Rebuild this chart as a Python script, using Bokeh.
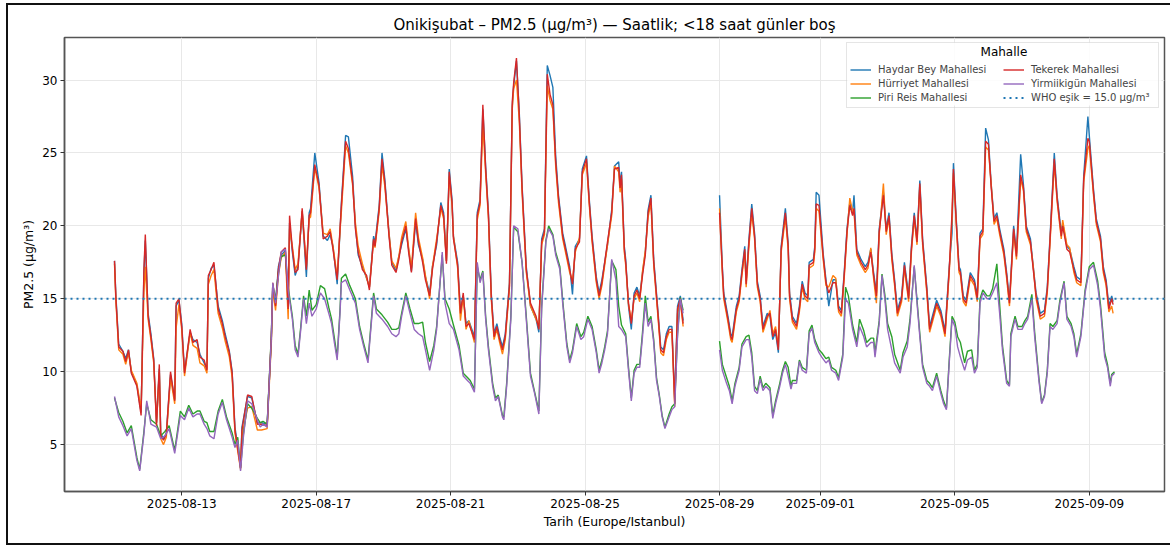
import numpy as np
import pandas as pd
from bokeh.plotting import figure
from bokeh.models import Range1d, FixedTicker, DatetimeTickFormatter, Legend, LegendItem, Label
from bokeh.embed import file_html
from bokeh.resources import INLINE

nan = float("nan")

TITLE = "Onikişubat – PM2.5 (µg/m³) — Saatlik; <18 saat günler boş"
X_LABEL = "Tarih (Europe/Istanbul)"
Y_LABEL = "PM2.5 (µg/m³)"
LEGEND_TITLE = "Mahalle"
START = "2025-08-11 00:00"
TICK_DATES = ["2025-08-13", "2025-08-17", "2025-08-21", "2025-08-25",
              "2025-08-29", "2025-09-01", "2025-09-05", "2025-09-09"]
Y_TICKS = [5, 10, 15, 20, 25, 30]
WHO = 15.0

# hours since START (high-level neighbourhoods)
HI_HOURS = [
    0, 1, 3, 6, 8, 10, 12, 16, 19, 21,
    22, 24, 26, 28, 30, 32, 33, 35, 37, 40,
    43, 44, 46, 48, 50, 54, 56, 59, 61, 64,
    66, 67, 69, 71, 74, 77, 79, 82, 84, 86,
    90, 91, 95, 98, 102, 105, 109, 112, 113, 115,
    117, 119, 122, 124, 125, 127, 129, 131, 134, 137,
    139, 140, 143, 146, 149, 152, 154, 156, 159, 161,
    162, 165, 167, 170, 172, 174, 177, 180, 182, 185,
    186, 189, 191, 193, 196, 198, 201, 203, 205, 208,
    210, 212, 215, 217, 220, 222, 225, 227, 230, 233,
    235, 237, 239, 241, 242, 245, 247, 249, 251, 253,
    257, 259, 261, 263, 265, 267, 269, 271, 273, 275,
    277, 279, 282, 284, 285, 287, 289, 291, 294, 297,
    301, 303, 305, 307, 309, 311, 313, 315, 317, 320,
    322, 325, 327, 329, 332, 334, 337, 339, 341, 344,
    346, 348, 352, 355, 357, 360, 361, 362, 364, 365,
    367, 369, 371, 373, 375, 377, 379, 381, 383, 385,
    388, 390, 392, 394, 396, 398, 400, 402, 404, 406,
    420, 432, 434, 435, 438, 440, 441, 444, 446, 448,
    450, 451, 453, 455, 457, 459, 461, 463, 466, 468,
    470, 472, 474, 476, 479, 481, 482, 484, 487, 489,
    491, 493, 495, 496, 499, 500, 501, 503, 506, 508,
    510, 513, 515, 517, 519, 521, 523, 525, 527, 528,
    530, 533, 536, 538, 540, 542, 544, 546, 549, 551,
    553, 555, 557, 559, 562, 564, 567, 569, 571, 573,
    575, 577, 580, 582, 584, 587, 590, 593, 596, 598,
    599, 601, 603, 604, 606, 608, 611, 614, 616, 618,
    620, 622, 624, 626, 628, 630, 632, 635, 637, 639,
    642, 644, 647, 649, 651, 654, 656, 658, 661, 664,
    666, 668, 671, 673, 676, 677, 680, 682, 685, 687,
    690, 692, 695, 696, 699, 701, 704, 706, 708, 710,
    712, 713,
]

HAYDAR = [
    17.6, 15.2, 11.9, 11.4, 10.9, 11.5, 10.0, 9.1, 7.2, 16.8,
    19.0, 14.0, 12.6, 10.9, 6.5, 10.2, 5.8, 5.4, 5.8, 9.8,
    8.1, 14.5, 14.9, 13.3, 10.0, 12.7, 12.2, 12.0, 11.2, 10.6,
    10.2, 16.4, 17.1, 17.3, 14.5, 13.5, 12.6, 11.4, 10.0, 6.2,
    3.5, 6.2, 8.3, 8.2, 6.5, 6.5, 6.4, 12.2, 15.8, 14.6,
    17.2, 18.0, 18.3, 14.8, 20.2, 18.2, 16.6, 17.2, 21.0, 16.5,
    20.9, 21.2, 25.0, 23.0, 19.3, 19.0, 19.4, 18.6, 16.0, 19.6,
    21.6, 26.2, 26.1, 23.4, 20.0, 18.0, 17.2, 16.4, 15.8, 19.3,
    18.8, 21.4, 25.0, 23.2, 19.5, 17.5, 16.9, 17.9, 18.7, 19.8,
    18.4, 16.9, 20.3, 18.7, 17.7, 16.5, 15.4, 17.2, 18.7, 21.6,
    20.9, 17.6, 23.9, 21.8, 19.3, 17.5, 14.2, 15.2, 13.3, 13.5,
    12.4, 20.9, 21.8, 28.0, 24.1, 20.9, 15.4, 12.6, 13.3, 12.4,
    11.7, 12.6, 16.1, 28.2, 29.6, 31.3, 27.8, 22.8, 17.2, 14.5,
    13.6, 12.7, 19.1, 19.8, 31.0, 30.3, 29.5, 24.8, 22.1, 19.5,
    18.6, 17.2, 15.3, 18.6, 19.1, 23.9, 24.8, 21.8, 19.3, 16.5,
    15.4, 16.3, 18.7, 21.1, 24.1, 24.4, 22.8, 23.7, 18.6, 17.7,
    14.5, 12.9, 15.4, 15.8, 15.2, 16.8, 18.2, 21.1, 22.1, 17.7,
    14.2, 11.7, 11.5, 12.6, 13.1, 13.1, 8.0, 14.5, 15.2, 13.5,
    nan, 22.1, 17.2, 15.4, 13.8, 12.6, 12.4, 14.5, 15.2, 17.0,
    18.6, 16.2, 19.1, 21.5, 19.5, 16.2, 15.2, 13.1, 14.0, 13.8,
    12.2, 12.7, 11.3, 18.6, 21.2, 18.8, 15.4, 13.8, 13.3, 14.5,
    16.2, 15.4, 15.2, 17.5, 17.7, 18.6, 22.3, 22.1, 18.1, 16.3,
    14.5, 16.3, 16.3, 14.5, 14.2, 16.8, 19.8, 21.6, 20.9, 22.1,
    18.4, 17.7, 17.2, 17.5, 18.4, 16.8, 15.4, 19.8, 22.3, 19.8,
    20.9, 18.1, 16.3, 14.2, 15.2, 17.5, 15.2, 18.6, 20.9, 19.1,
    23.1, 19.1, 15.8, 13.1, 13.8, 14.9, 14.2, 12.8, 17.2, 19.5,
    24.3, 20.5, 17.2, 17.0, 15.2, 14.9, 16.8, 16.3, 15.2, 19.5,
    19.8, 26.7, 25.9, 22.8, 20.5, 20.9, 19.8, 18.4, 16.8, 14.9,
    20.0, 18.1, 24.9, 22.8, 20.0, 19.1, 17.2, 15.4, 14.0, 14.2,
    15.8, 19.3, 25.0, 22.1, 19.5, 20.2, 18.6, 18.4, 17.2, 16.5,
    16.3, 23.4, 27.5, 26.2, 22.5, 20.5, 19.3, 17.2, 16.3, 14.5,
    15.2, 14.8,
]

HURRIYET = [
    17.4, 14.8, 11.5, 11.2, 10.5, 11.3, 10.1, 9.2, 7.4, 15.5,
    17.2, 13.6, 12.2, 10.6, 6.5, 10.0, 5.4, 5.0, 5.5, 9.6,
    7.8, 13.0, 14.6, 12.9, 9.7, 12.7, 11.8, 11.6, 10.6, 10.4,
    9.9, 16.0, 16.6, 17.0, 14.0, 13.0, 12.1, 11.0, 9.6, 5.8,
    3.3, 5.6, 7.5, 7.6, 6.0, 6.0, 6.1, 12.0, 15.6, 14.2,
    16.6, 17.8, 18.2, 13.6, 19.8, 18.6, 17.0, 17.4, 21.0, 17.2,
    20.5, 20.6, 24.0, 22.6, 19.5, 19.4, 19.8, 18.6, 16.5, 19.6,
    21.0, 25.5, 25.0, 22.8, 20.2, 18.6, 17.4, 16.4, 15.8, 19.0,
    18.5, 21.0, 24.2, 22.7, 19.5, 17.6, 17.1, 17.9, 19.2, 20.3,
    18.5, 17.1, 20.9, 19.2, 17.8, 16.6, 15.0, 17.2, 19.1, 21.2,
    20.5, 17.6, 23.4, 21.4, 19.3, 17.1, 13.5, 15.2, 12.9, 13.5,
    12.0, 20.4, 21.4, 27.0, 23.6, 20.5, 15.0, 12.2, 12.9, 12.0,
    11.2, 12.2, 15.7, 28.0, 29.4, 30.0, 27.2, 22.3, 16.8, 14.5,
    13.6, 13.1, 18.7, 19.4, 29.6, 28.6, 28.0, 24.1, 21.6, 19.1,
    18.2, 16.8, 16.2, 18.2, 19.2, 23.5, 24.3, 21.4, 18.9, 16.1,
    15.0, 15.9, 18.7, 20.7, 24.1, 23.7, 22.3, 23.2, 18.2, 17.3,
    14.6, 13.5, 15.0, 15.4, 14.8, 16.9, 18.3, 20.6, 21.6, 17.3,
    13.8, 11.3, 11.1, 12.2, 12.7, 12.7, 7.6, 14.0, 14.8, 13.1,
    nan, 21.2, 16.7, 15.0, 13.4, 12.2, 12.0, 14.1, 14.8, 16.6,
    18.2, 15.8, 18.6, 20.9, 19.1, 15.8, 14.8, 12.7, 13.6, 14.2,
    12.6, 13.1, 11.7, 18.2, 20.6, 18.4, 15.0, 13.4, 12.9, 14.1,
    15.8, 15.0, 14.8, 17.1, 17.3, 18.2, 21.2, 21.0, 17.7, 15.9,
    15.8, 16.6, 16.4, 14.1, 13.8, 16.4, 19.4, 21.9, 21.0, 21.0,
    18.0, 17.3, 16.8, 17.1, 18.5, 16.4, 14.7, 19.4, 22.9, 19.4,
    20.5, 17.7, 15.9, 13.8, 14.8, 17.1, 14.8, 18.2, 20.5, 18.7,
    22.7, 18.7, 15.4, 12.7, 13.4, 14.5, 13.8, 12.4, 16.8, 20.5,
    23.6, 20.1, 16.8, 16.6, 14.8, 14.5, 16.4, 15.9, 14.8, 19.1,
    19.4, 25.4, 25.2, 22.8, 20.1, 20.5, 19.4, 18.0, 16.4, 14.5,
    19.6, 17.7, 23.2, 22.4, 19.6, 18.7, 17.2, 15.0, 13.6, 13.8,
    15.4, 18.9, 24.3, 21.7, 19.1, 20.4, 18.7, 18.5, 16.8, 16.1,
    15.9, 23.0, 25.3, 25.5, 22.1, 20.1, 18.9, 16.8, 15.9, 14.1,
    14.5, 14.0,
]

TEKEREK = [
    17.6, 15.0, 11.7, 11.4, 10.7, 11.5, 9.9, 9.0, 7.0, 17.0,
    19.4, 13.8, 12.4, 10.8, 6.3, 10.5, 5.6, 5.3, 5.7, 10.0,
    8.0, 14.7, 15.0, 13.1, 9.9, 12.9, 12.0, 12.2, 11.0, 10.8,
    10.1, 16.6, 17.0, 17.5, 14.3, 13.3, 12.4, 11.3, 9.9, 6.0,
    3.4, 6.0, 8.4, 8.3, 6.4, 6.4, 6.3, 12.4, 16.1, 14.5,
    17.0, 18.2, 18.5, 14.3, 20.7, 18.4, 16.8, 17.0, 21.2, 17.0,
    20.7, 20.9, 24.2, 22.8, 19.1, 19.3, 19.6, 18.4, 16.3, 19.8,
    21.4, 25.8, 25.3, 23.0, 19.8, 18.2, 17.0, 16.6, 15.6, 19.1,
    18.6, 21.2, 24.6, 23.0, 19.3, 17.3, 16.8, 17.7, 18.9, 20.0,
    18.2, 16.8, 20.5, 18.9, 17.5, 16.3, 15.2, 17.0, 18.9, 21.4,
    20.7, 17.4, 23.7, 21.6, 19.1, 17.3, 14.0, 15.4, 13.1, 13.3,
    12.2, 20.7, 21.6, 28.3, 23.9, 20.7, 15.2, 12.4, 13.1, 12.2,
    11.5, 12.4, 15.9, 28.5, 29.8, 31.5, 27.6, 22.6, 17.0, 14.7,
    13.8, 12.9, 18.9, 19.6, 30.4, 29.0, 28.3, 24.4, 21.9, 19.3,
    18.4, 17.0, 16.0, 18.4, 18.9, 23.7, 24.6, 21.6, 19.1, 16.3,
    15.2, 16.1, 18.9, 20.9, 23.9, 24.0, 22.6, 23.5, 18.4, 17.5,
    14.7, 13.3, 15.2, 15.6, 15.0, 16.6, 18.0, 20.9, 21.9, 17.5,
    14.0, 11.5, 11.3, 12.4, 12.9, 12.9, 7.8, 14.3, 15.0, 13.3,
    nan, 20.9, 17.0, 15.2, 13.6, 12.4, 12.2, 14.3, 15.0, 16.8,
    18.4, 16.0, 18.9, 21.2, 19.3, 16.0, 15.0, 12.9, 13.8, 14.0,
    12.4, 12.9, 11.5, 18.4, 20.9, 18.6, 15.2, 13.6, 13.1, 14.3,
    16.0, 15.2, 15.0, 17.3, 17.5, 18.4, 21.5, 21.4, 17.9, 16.1,
    15.4, 16.1, 16.1, 14.3, 14.0, 16.6, 19.6, 21.4, 20.7, 21.2,
    18.2, 17.5, 17.0, 17.3, 18.2, 16.6, 15.2, 19.6, 22.1, 19.6,
    20.7, 17.9, 16.1, 14.0, 15.0, 17.3, 15.0, 18.4, 20.7, 18.9,
    22.9, 18.9, 15.6, 12.9, 13.6, 14.7, 14.0, 12.6, 17.0, 20.9,
    23.9, 20.3, 17.0, 16.8, 15.0, 14.7, 16.6, 16.1, 15.0, 19.3,
    19.6, 25.8, 25.6, 22.6, 20.3, 20.7, 19.6, 18.2, 16.6, 14.7,
    19.8, 17.9, 23.5, 22.6, 19.8, 18.9, 17.0, 15.2, 13.8, 14.0,
    15.6, 19.1, 24.6, 21.9, 19.3, 20.0, 18.4, 18.2, 17.0, 16.3,
    16.1, 23.2, 26.0, 25.8, 22.3, 20.3, 19.1, 17.0, 16.1, 14.3,
    15.0, 14.6,
]

# hours since START (low-level neighbourhoods)
LO_HOURS = [
    0, 3, 6, 9, 12, 16, 18, 21, 23, 26,
    30, 33, 36, 39, 43, 47, 50, 53, 56, 59,
    61, 64, 66, 68, 71, 74, 77, 80, 84, 86,
    88, 90, 92, 95, 98, 102, 104, 106, 109, 112,
    113, 115, 117, 119, 122, 124, 127, 129, 131, 133,
    135, 137, 139, 141, 144, 147, 150, 153, 155, 157,
    159, 161, 162, 165, 168, 172, 175, 178, 181, 185,
    187, 191, 195, 198, 201, 203, 205, 208, 211, 214,
    217, 220, 222, 225, 228, 230, 234, 236, 239, 242,
    246, 249, 252, 254, 257, 259, 261, 263, 265, 267,
    270, 272, 274, 277, 278, 280, 283, 285, 288, 291,
    294, 297, 300, 303, 305, 308, 310, 313, 315, 318,
    320, 323, 325, 327, 330, 333, 335, 338, 341, 344,
    346, 348, 350, 352, 355, 358, 360, 362, 365, 367,
    369, 371, 373, 375, 377, 379, 381, 383, 385, 387,
    389, 391, 393, 396, 398, 400, 402, 404, 406, 420,
    432, 434, 437, 439, 441, 443, 446, 448, 451, 453,
    455, 457, 459, 461, 463, 465, 468, 470, 472, 475,
    477, 479, 481, 483, 484, 487, 489, 491, 494, 496,
    498, 500, 503, 505, 508, 510, 512, 515, 517, 520,
    522, 524, 527, 530, 532, 535, 537, 540, 542, 543,
    546, 548, 550, 552, 555, 557, 561, 563, 566, 568,
    571, 573, 575, 577, 580, 582, 584, 587, 590, 592,
    594, 596, 598, 600, 602, 604, 607, 609, 612, 614,
    616, 618, 620, 623, 625, 627, 630, 632, 634, 637,
    639, 640, 643, 645, 648, 650, 652, 655, 657, 660,
    662, 664, 666, 668, 670, 673, 675, 678, 680, 683,
    685, 687, 690, 693, 696, 699, 702, 704, 707, 709,
    711, 712, 714,
]

PIRI_REIS = [
    8.2, 7.2, 6.6, 5.8, 6.3, 4.1, 3.3, 5.9, 7.8, 6.7,
    6.4, 5.6, 5.9, 6.3, 4.6, 7.3, 6.9, 7.7, 7.1, 7.3,
    7.3, 6.6, 6.5, 5.9, 5.9, 7.3, 8.1, 6.9, 5.8, 5.0,
    5.5, 3.4, 5.7, 7.8, 7.5, 6.8, 6.5, 6.6, 6.4, 12.6,
    16.0, 14.9, 16.8, 17.9, 18.0, 15.8, 13.8, 11.8, 11.2, 13.1,
    15.2, 13.8, 15.6, 14.2, 14.6, 15.9, 15.7, 14.4, 13.6, 12.3,
    11.0, 14.2, 16.4, 16.7, 15.9, 15.0, 13.1, 11.9, 10.8, 15.4,
    14.3, 13.9, 13.4, 12.9, 12.9, 13.0, 14.0, 15.4, 14.3, 13.3,
    13.3, 13.4, 12.0, 10.7, 11.8, 13.1, 18.0, 15.0, 14.3, 13.2,
    11.8, 9.9, 9.6, 9.4, 8.8, 17.2, 16.3, 16.9, 13.8, 11.7,
    9.2, 8.2, 8.4, 7.0, 6.9, 9.2, 13.8, 19.9, 19.6, 17.5,
    13.8, 9.9, 8.6, 7.3, 14.5, 19.0, 20.0, 19.4, 18.2, 17.2,
    14.9, 11.9, 10.8, 11.5, 13.3, 12.4, 12.7, 13.8, 13.1, 11.5,
    10.1, 10.8, 11.7, 12.8, 17.6, 17.0, 14.5, 13.2, 12.6, 10.3,
    8.2, 10.1, 10.5, 10.5, 12.7, 15.2, 13.4, 13.8, 12.2, 9.6,
    8.4, 7.0, 6.2, 7.1, 7.6, 7.8, 12.6, 15.1, 14.2, nan,
    12.1, 10.5, 9.6, 9.0, 8.0, 9.2, 10.3, 11.9, 12.4, 12.5,
    11.3, 9.0, 8.7, 9.7, 8.9, 9.2, 8.9, 7.0, 8.0, 9.2,
    10.1, 10.7, 10.3, 9.0, 9.4, 9.4, 10.8, 10.3, 10.1, 12.8,
    13.2, 12.2, 11.5, 11.3, 10.9, 11.0, 10.3, 10.1, 9.6, 11.2,
    15.8, 15.2, 13.2, 12.0, 13.6, 12.8, 12.0, 12.3, 12.3, 11.3,
    13.5, 16.7, 15.3, 13.3, 12.4, 11.2, 10.1, 11.3, 12.1, 13.6,
    17.2, 14.9, 12.6, 10.5, 9.4, 9.2, 8.9, 9.9, 8.7, 8.0,
    7.5, 10.8, 13.8, 13.4, 12.4, 12.0, 10.6, 11.4, 11.5, 10.1,
    10.5, 15.0, 15.6, 15.2, 15.2, 15.7, 17.4, 14.6, 11.8, 9.4,
    9.1, 12.6, 13.8, 13.1, 13.1, 13.5, 13.8, 15.3, 12.7, 9.6,
    7.9, 8.4, 10.1, 13.3, 13.1, 13.5, 14.9, 16.2, 13.8, 13.3,
    12.6, 11.2, 12.6, 15.6, 17.2, 17.5, 16.2, 14.6, 11.3, 10.5,
    9.2, 9.8, 10.0,
]

YIRMIIKIGUN = [
    8.3, 6.9, 6.3, 5.6, 6.1, 3.9, 3.2, 5.7, 8.0, 6.4,
    6.2, 5.4, 5.6, 6.1, 4.4, 7.0, 6.7, 7.5, 6.9, 7.1,
    7.1, 6.4, 6.1, 5.6, 5.4, 7.1, 7.9, 6.7, 5.5, 4.8,
    5.3, 3.2, 5.5, 8.0, 7.8, 6.7, 6.2, 6.4, 6.2, 12.4,
    16.1, 14.7, 16.5, 18.2, 18.4, 15.6, 13.6, 11.5, 11.0, 12.9,
    15.0, 13.3, 14.7, 13.8, 14.3, 15.4, 15.0, 14.0, 13.3, 12.0,
    10.8, 14.0, 16.1, 16.3, 15.6, 14.7, 12.9, 11.7, 10.6, 15.2,
    14.0, 13.6, 13.1, 12.6, 12.4, 12.6, 13.8, 15.2, 14.0, 12.9,
    12.6, 12.4, 11.5, 10.1, 11.5, 12.9, 18.2, 14.7, 13.3, 12.9,
    11.5, 9.7, 9.4, 9.2, 8.6, 17.5, 16.1, 16.8, 13.6, 11.5,
    9.0, 8.0, 8.3, 6.9, 6.7, 9.0, 13.6, 20.0, 19.8, 17.5,
    13.6, 9.7, 8.5, 7.1, 14.3, 18.9, 19.8, 19.3, 18.0, 17.0,
    14.7, 11.7, 10.6, 11.3, 13.1, 12.2, 12.4, 13.6, 12.9, 11.3,
    9.9, 10.6, 11.5, 12.6, 17.7, 16.3, 13.1, 12.9, 12.4, 10.1,
    8.0, 9.9, 10.3, 10.3, 12.4, 14.7, 13.1, 13.6, 12.0, 9.4,
    8.3, 6.9, 6.1, 6.9, 7.4, 7.6, 12.4, 15.0, 14.0, nan,
    11.5, 10.1, 9.2, 8.7, 7.8, 9.0, 10.1, 11.7, 12.2, 12.2,
    11.0, 8.7, 8.5, 9.5, 8.7, 9.0, 8.7, 6.8, 7.8, 9.0,
    9.9, 10.5, 9.7, 8.8, 9.2, 9.2, 10.7, 10.1, 9.9, 12.6,
    13.0, 12.0, 11.3, 11.0, 10.6, 10.8, 10.1, 9.9, 9.4, 11.0,
    15.0, 14.7, 12.9, 11.7, 13.1, 12.4, 11.7, 12.0, 12.0, 11.0,
    13.3, 16.6, 15.0, 12.9, 11.5, 10.6, 9.9, 11.0, 11.7, 13.3,
    17.3, 14.7, 12.4, 10.3, 9.2, 9.0, 8.7, 9.7, 8.5, 7.8,
    7.4, 10.6, 13.6, 13.1, 11.7, 11.0, 10.1, 10.8, 11.0, 9.9,
    10.3, 14.7, 15.4, 15.0, 15.0, 15.4, 16.1, 14.0, 11.5, 9.2,
    9.0, 12.4, 13.6, 12.9, 12.9, 13.3, 13.6, 15.0, 12.4, 9.4,
    7.8, 8.3, 9.9, 13.1, 12.9, 13.3, 14.7, 16.1, 13.6, 13.1,
    12.4, 11.0, 12.4, 15.4, 17.0, 17.3, 15.9, 14.3, 11.0, 10.3,
    9.0, 9.7, 9.9,
]

SERIES = [
    ("Haydar Bey Mahallesi", "hi", HAYDAR, "#1f77b4"),
    ("Hürriyet Mahallesi", "hi", HURRIYET, "#ff7f0e"),
    ("Piri Reis Mahallesi", "lo", PIRI_REIS, "#2ca02c"),
    ("Tekerek Mahallesi", "hi", TEKEREK, "#d62728"),
    ("Yirmiikigün Mahallesi", "lo", YIRMIIKIGUN, "#9467bd"),
]
WHO_LABEL = "WHO eşik = 15.0 µg/m³"
WHO_COLOR = "#1f77b4"


def to_ms(hours):
    base = pd.Timestamp(START)
    t = base + pd.to_timedelta(np.asarray(hours, dtype=float), unit="h")
    return (t.values.astype("datetime64[ms]").astype(np.int64)).astype(float)


x_hi = to_ms(HI_HOURS)
x_lo = to_ms(LO_HOURS)
xmin = min(x_hi.min(), x_lo.min())
xmax = max(x_hi.max(), x_lo.max())
pad = 0.05 * (xmax - xmin)
all_vals = np.array([v for _, _, vals, _ in SERIES for v in vals], dtype=float)
ymin, ymax = np.nanmin(all_vals), np.nanmax(all_vals)
ypad = 0.05 * (ymax - ymin)
x0, x1 = xmin - pad, xmax + pad
y0, y1 = ymin - ypad, ymax + ypad
XS = x1 - x0
YS = y1 - y0

FONT = "DejaVu Sans"

p = figure(width=1164, height=542, x_axis_type="datetime",
           output_backend="svg", toolbar_location=None,
           x_range=Range1d(x0, x1), y_range=Range1d(y0, y1),
           min_border_left=56, min_border_right=8,
           min_border_top=32, min_border_bottom=56)
p.styles = {"margin-left": "6px", "margin-top": "3px",
            "border-left": "2px solid #111111",
            "border-top": "2px solid #111111",
            "border-bottom": "2px solid #111111"}

p.title.text = TITLE
p.title.align = "center"
p.title.text_font = FONT
p.title.text_font_size = "15px"
p.title.text_font_style = "normal"
p.title.text_color = "#000000"
p.title.standoff = 8

items = []
for name, grp, vals, col in SERIES:
    xs = x_hi if grp == "hi" else x_lo
    r = p.line(xs, np.array(vals, dtype=float), line_color=col, line_width=1.4)
    items.append(LegendItem(label=name, renderers=[r]))

w = p.line([x0, x1], [WHO, WHO], line_color=WHO_COLOR, line_width=2, line_dash="2 4")
items.append(LegendItem(label=WHO_LABEL, renderers=[w]))

# translucent white panel behind the legend (legend box itself is transparent)
p.quad(left=[x0 + 0.7116 * XS], right=[x0 + 0.9973 * XS],
       top=[y1 - 0.011 * YS], bottom=[y1 - 0.150 * YS],
       fill_color="#ffffff", fill_alpha=0.85, line_color=None)

for ax in (p.xaxis[0], p.yaxis[0]):
    ax.axis_label_text_font = FONT
    ax.axis_label_text_font_size = "12.5px"
    ax.axis_label_text_font_style = "normal"
    ax.axis_label_text_color = "#000000"
    ax.axis_label_standoff = 3
    ax.major_label_text_font = FONT
    ax.major_label_text_font_size = "12px"
    ax.major_label_text_color = "#000000"
    ax.major_label_standoff = 3
    ax.axis_line_color = "#555555"
    ax.axis_line_width = 1.5
    ax.major_tick_line_color = "#333333"
    ax.major_tick_out = 4
    ax.major_tick_in = 0
    ax.minor_tick_line_color = None

p.xaxis.axis_label = X_LABEL
p.yaxis.axis_label = Y_LABEL
p.xaxis.ticker = FixedTicker(ticks=[float(pd.Timestamp(d).value // 10**6) for d in TICK_DATES])
fmt = "%Y-%m-%d"
p.xaxis.formatter = DatetimeTickFormatter(milliseconds=fmt, seconds=fmt, minsec=fmt,
                                          minutes=fmt, hourmin=fmt, hours=fmt, days=fmt,
                                          months=fmt, years=fmt)
p.yaxis.ticker = FixedTicker(ticks=Y_TICKS)

p.grid.grid_line_color = "#e8e8e8"
p.grid.grid_line_width = 1
p.outline_line_color = "#555555"
p.outline_line_width = 1.5

legend = Legend(items=items, location="top_right", ncols=2)
legend.title = " "
legend.title_text_font = FONT
legend.title_text_font_size = "12px"
legend.title_standoff = 3
legend.label_text_font = FONT
legend.label_text_font_size = "10px"
legend.label_height = 13
legend.glyph_height = 13
legend.glyph_width = 21
legend.label_width = 124
legend.label_standoff = 7
legend.spacing = 1
legend.padding = 3
legend.margin = 5
legend.border_line_color = "#cccccc"
legend.border_line_width = 1
legend.background_fill_alpha = 0.0
p.add_layout(legend)

title_lbl = Label(x=x0 + 0.854 * XS, y=y1 - 1.02 * YS / 31.3,
                  text=LEGEND_TITLE, text_align="center", text_baseline="middle",
                  text_font=FONT, text_font_size="12px", text_color="#000000")
p.add_layout(title_lbl)

open("out.html", "w").write(file_html(p, INLINE))
